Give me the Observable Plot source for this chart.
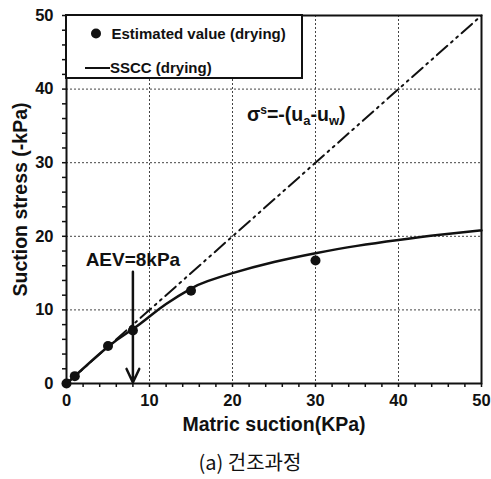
<!DOCTYPE html>
<html>
<head>
<meta charset="utf-8">
<script src="https://cdn.jsdelivr.net/npm/d3@7"></script>
<script src="https://cdn.jsdelivr.net/npm/@observablehq/plot@0.6"></script>
<style>
  body { margin: 0; background: #fff; }
  #chart { width: 491px; }
  .caption {
    font-family: "Noto Sans CJK KR", "Noto Sans", sans-serif;
    font-size: 20px;
    text-align: center;
    height: 34px;
    line-height: 34px;
    padding-left: 9px;
    width: 482px;
    color: #111;
  }
</style>
</head>
<body>
<div id="chart"></div>
<div class="caption">(a) 건조과정</div>
<script>
// Estimated suction stress values along the drying path
const suction = [0, 1, 5, 8, 15, 30];
const estimatedStress = [0, 1, 5.1, 7.2, 12.6, 16.7];

// Suction stress characteristic curve (drying)
const ssccSuction = [0, 1, 5, 8, 10, 12, 15, 17, 20, 25, 30, 35, 40, 45, 50];
const ssccStress = [0, 1, 5.0, 7.4, 9.1, 10.8, 12.9, 13.9, 15.0, 16.5, 17.7, 18.7, 19.5, 20.2, 20.8];

// Saturated line: sigma_s = -(ua - uw)
const saturatedSuction = [0, 50];
const saturatedStress = [0, 50];

// Air-entry value arrow
const aev = 8;
const aevArrowTop = 15.2;
const aevLabel = "AEV=8kPa";

const gridValues = [10, 20, 30, 40];
const tickValues = d3.range(0, 51, 2);

const font = "'Liberation Sans', Arial, Helvetica, sans-serif";

const estimated = suction.map((s, i) => ({s, v: estimatedStress[i]}));
const sscc = ssccSuction.map((s, i) => ({s, v: ssccStress[i]}));
const saturated = saturatedSuction.map((s, i) => ({s, v: saturatedStress[i]}));

const plot = Plot.plot({
  width: 491,
  height: 445,
  marginLeft: 66,
  marginRight: 10,
  marginTop: 15,
  marginBottom: 62,
  style: {fontFamily: font, color: "#111", background: "#fff"},
  x: {domain: [0, 50]},
  y: {domain: [0, 50]},
  marks: [
    Plot.gridX(gridValues, {stroke: "#444", strokeOpacity: 1, strokeDasharray: "2,2", strokeWidth: 1}),
    Plot.gridY(gridValues, {stroke: "#444", strokeOpacity: 1, strokeDasharray: "2,2", strokeWidth: 1}),
    Plot.line(saturated, {x: "s", y: "v", stroke: "#111", strokeWidth: 2, strokeDasharray: "14,5,2,5,2,5"}),
    Plot.line(sscc, {x: "s", y: "v", stroke: "#111", strokeWidth: 2.5, curve: "natural"}),
    Plot.dot(estimated, {x: "s", y: "v", r: 5, fill: "#111", stroke: "none"}),
    Plot.arrow([{a: aev, t: aevArrowTop}], {x1: "a", x2: "a", y1: "t", y2: 0, stroke: "#111", strokeWidth: 2.5, headLength: 9, headAngle: 50, insetEnd: 1}),
    Plot.text([{a: aev, t: 16.8}], {x: "a", y: "t", text: () => aevLabel, fontSize: 19, fontWeight: "bold", fill: "#111"}),
    Plot.frame({stroke: "#111", strokeWidth: 2}),
    Plot.axisX(tickValues, {tickSize: 4, strokeWidth: 1.5, tickPadding: 7, fontSize: 16.5, fontWeight: "bold", tickFormat: d => d % 10 === 0 ? d : "", label: null}),
    Plot.axisY(tickValues, {tickSize: 4, strokeWidth: 1.5, tickPadding: 9, fontSize: 16.5, fontWeight: "bold", tickFormat: d => d % 10 === 0 ? d : "", label: null}),
    Plot.text(["Matric suction(KPa)"], {frameAnchor: "bottom", dy: 47, fontSize: 19.5, fontWeight: "bold", fill: "#111"}),
    Plot.text(["Suction stress (-kPa)"], {frameAnchor: "left", textAnchor: "middle", dx: -46, rotate: -90, fontSize: 19.5, fontWeight: "bold", fill: "#111"})
  ]
});

const svg = d3.select(plot);
const xs = plot.scale("x");
const ys = plot.scale("y");

// Saturated-line equation label with super/subscripts
const eq = svg.append("text")
  .attr("x", xs.apply(21.8))
  .attr("y", ys.apply(35.6))
  .attr("text-anchor", "start")
  .attr("font-family", font)
  .attr("font-size", 19.5)
  .attr("font-weight", "bold")
  .attr("fill", "#111");
eq.append("tspan").text("σ");
eq.append("tspan").attr("font-size", 12).attr("dy", -7).text("s");
eq.append("tspan").attr("dy", 7).text("=-(u");
eq.append("tspan").attr("font-size", 13).attr("dy", 4).text("a");
eq.append("tspan").attr("dy", -4).text("-u");
eq.append("tspan").attr("font-size", 13).attr("dy", 4).text("w");
eq.append("tspan").attr("dy", -4).text(")");

// Legend box in the upper-left corner
const lx = xs.apply(0), ly = ys.apply(50);
const legend = svg.append("g")
  .attr("font-family", font)
  .attr("font-weight", "bold")
  .attr("font-size", 15)
  .attr("text-anchor", "start")
  .attr("fill", "#111");
legend.append("rect")
  .attr("x", lx).attr("y", ly)
  .attr("width", 236).attr("height", 63)
  .attr("fill", "#fff").attr("stroke", "#111").attr("stroke-width", 2);
legend.append("circle").attr("cx", lx + 30).attr("cy", ly + 18.5).attr("r", 5).attr("fill", "#111");
legend.append("text").attr("x", lx + 45.5).attr("y", ly + 24).text("Estimated value (drying)");
legend.append("line")
  .attr("x1", lx + 19).attr("x2", lx + 44)
  .attr("y1", ly + 53).attr("y2", ly + 53)
  .attr("stroke", "#111").attr("stroke-width", 2);
legend.append("text").attr("x", lx + 44).attr("y", ly + 58).text("SSCC (drying)");

document.getElementById("chart").appendChild(plot);
</script>
</body>
</html>
